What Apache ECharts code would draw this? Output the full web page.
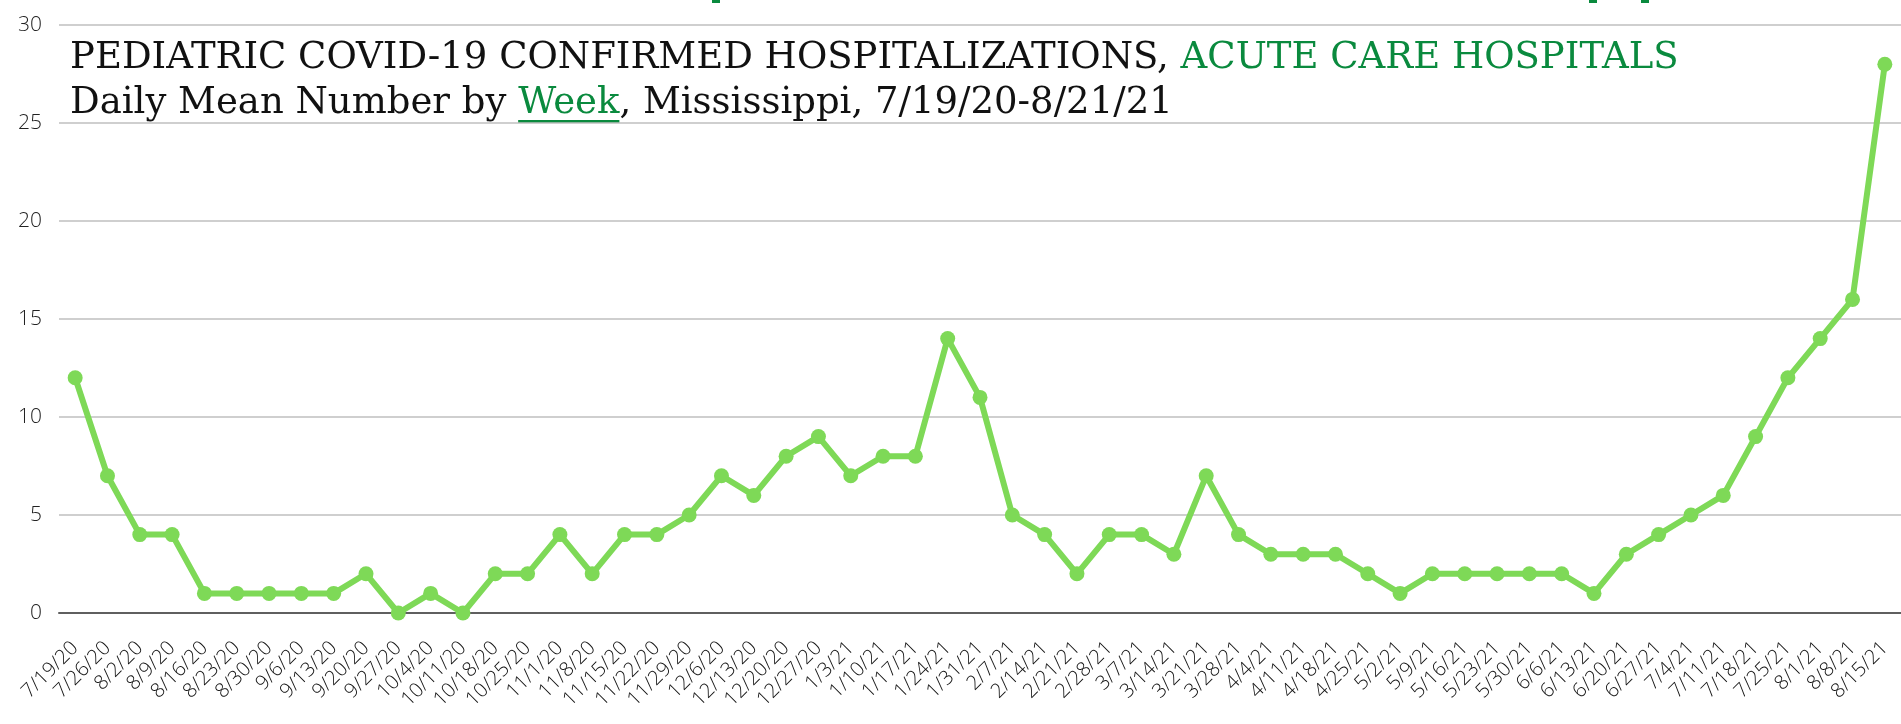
<!DOCTYPE html>
<html>
<head>
<meta charset="utf-8">
<script src="https://cdn.jsdelivr.net/npm/echarts@6/dist/echarts.min.js"></script>
<style>
    html, body { margin: 0; padding: 0; background: #fff; }
    #pediatric-chart { width: 1901px; height: 724px; }
</style>
</head>
<body>
<div id="pediatric-chart"></div>
<script>
// week start dates
const weeks = [
    '7/19/20', '7/26/20', '8/2/20', '8/9/20', '8/16/20', '8/23/20', '8/30/20', '9/6/20', '9/13/20', '9/20/20',
    '9/27/20', '10/4/20', '10/11/20', '10/18/20', '10/25/20', '11/1/20', '11/8/20', '11/15/20', '11/22/20', '11/29/20',
    '12/6/20', '12/13/20', '12/20/20', '12/27/20', '1/3/21', '1/10/21', '1/17/21', '1/24/21', '1/31/21', '2/7/21',
    '2/14/21', '2/21/21', '2/28/21', '3/7/21', '3/14/21', '3/21/21', '3/28/21', '4/4/21', '4/11/21', '4/18/21',
    '4/25/21', '5/2/21', '5/9/21', '5/16/21', '5/23/21', '5/30/21', '6/6/21', '6/13/21', '6/20/21', '6/27/21',
    '7/4/21', '7/11/21', '7/18/21', '7/25/21', '8/1/21', '8/8/21', '8/15/21'
];
// daily mean hospitalizations per week
const dailyMean = [
    12, 7, 4, 4, 1, 1, 1, 1, 1, 2,
    0, 1, 0, 2, 2, 4, 2, 4, 4, 5,
    7, 6, 8, 9, 7, 8, 8, 14, 11, 5,
    4, 2, 4, 4, 3, 7, 4, 3, 3, 3,
    2, 1, 2, 2, 2, 2, 2, 1, 3, 4,
    5, 6, 9, 12, 14, 16, 28
];
const yTicks = [0, 5, 10, 15, 20, 25, 30];

const green = '#0a8a3e';
const titleFont = '"DejaVu Serif", serif';
const titleSize = 37;

// measure text so the underline sits under "Week"
function textWidth(str) {
    let ctx = document.createElement('canvas').getContext('2d');
    ctx.font = 'normal ' + titleSize + 'px ' + titleFont;
    return ctx.measureText(str).width;
}

let myChart = echarts.init(document.getElementById('pediatric-chart'));
let titleLeft = 70;
let weekLeft = titleLeft + textWidth('Daily Mean Number by ');
let weekWidth = textWidth('Week');

let richBase = {
    fontFamily: titleFont,
    fontSize: titleSize,
    fontWeight: 'normal',
    lineHeight: 45
};

let option = {
    animation: false,
    title: {
        left: titleLeft,
        top: 36,
        padding: 0,
        text: '{b|PEDIATRIC COVID-19 CONFIRMED HOSPITALIZATIONS, }{g|ACUTE CARE HOSPITALS}\n' +
              '{b|Daily Mean Number by }{g|Week}{b|, Mississippi, 7/19/20-8/21/21}',
        textStyle: {
            fontWeight: 'normal',
            rich: {
                b: Object.assign({ color: '#111' }, richBase),
                g: Object.assign({ color: green }, richBase)
            }
        }
    },
    graphic: [
        { type: 'rect', left: weekLeft, top: 120, shape: { width: weekWidth, height: 3 }, style: { fill: green } },
        // cut-off heading remnants at very top
        { type: 'rect', left: 712, top: 0, shape: { width: 8, height: 3 }, style: { fill: green } },
        { type: 'rect', left: 1589, top: 0, shape: { width: 8, height: 3 }, style: { fill: green } },
        { type: 'rect', left: 1641, top: 0, shape: { width: 8, height: 3 }, style: { fill: green } }
    ],
    grid: {
        left: 59,
        top: 25,
        width: 1852.5,
        height: 588
    },
    xAxis: {
        type: 'category',
        data: weeks,
        boundaryGap: true,
        axisLine: { lineStyle: { color: '#5f5f5f', width: 2 } },
        axisTick: { show: false },
        axisLabel: {
            rotate: 45,
            interval: 0,
            margin: 32,
            fontFamily: '"Open Sans", sans-serif',
            fontWeight: 300,
            fontSize: 20,
            color: '#111'
        }
    },
    yAxis: {
        type: 'value',
        min: 0,
        max: 30,
        interval: 5,
        axisLine: { show: false },
        axisTick: { show: false },
        axisLabel: {
            margin: 17,
            fontFamily: '"Open Sans", sans-serif',
            fontWeight: 300,
            fontSize: 21,
            color: '#222',
            formatter: function (v) { return yTicks.indexOf(v) >= 0 ? String(v) : ''; }
        },
        splitLine: { lineStyle: { color: '#bfbfbf', width: 1.5 } }
    },
    series: [{
        type: 'line',
        data: dailyMean,
        symbol: 'circle',
        symbolSize: 15,
        itemStyle: { color: '#7ed957' },
        lineStyle: { color: '#7ed957', width: 6 },
        z: 3
    }]
};
myChart.setOption(option);
</script>
</body>
</html>
